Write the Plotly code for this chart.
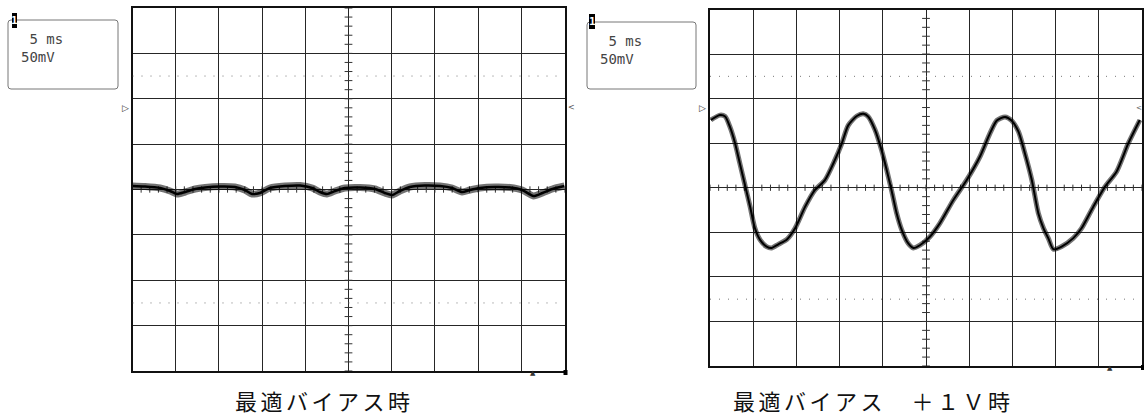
import plotly.graph_objects as go

W, H = 1144, 416

# ---- data (x in time divisions 0..10, y in volt divisions, centre = 0) ----
left_x = [0.00, 0.29, 0.64, 0.87, 1.03, 1.22, 1.45, 1.68, 2.03, 2.37, 2.60, 2.77, 2.95,
          3.18, 3.53, 3.88, 4.16, 4.34, 4.50, 4.69, 4.92, 5.27, 5.61, 5.84, 6.01, 6.19,
          6.42, 6.77, 7.12, 7.40, 7.63, 7.81, 8.04, 8.39, 8.74, 9.02, 9.28, 9.49, 9.72, 10.0]
left_y = [0.077, 0.066, 0.033, -0.033, -0.099, -0.055, 0.011, 0.044, 0.066, 0.055, -0.011,
          -0.099, -0.077, 0.033, 0.077, 0.088, 0.033, -0.055, -0.099, -0.033, 0.033, 0.044,
          0.011, -0.077, -0.121, -0.033, 0.055, 0.088, 0.077, 0.033, -0.055, -0.011, 0.033,
          0.055, 0.044, -0.011, -0.143, -0.077, 0.011, 0.077]

right_x = [0.02, 0.23, 0.35, 0.46, 0.58, 0.69, 0.81, 0.93, 1.04, 1.16, 1.31, 1.43, 1.58,
           1.78, 1.97, 2.20, 2.43, 2.66, 2.89, 3.05, 3.20, 3.40, 3.55, 3.66, 3.82, 3.97,
           4.09, 4.21, 4.32, 4.44, 4.59, 4.71, 4.86, 5.09, 5.32, 5.63, 5.94, 6.25, 6.48,
           6.64, 6.83, 6.98, 7.14, 7.29, 7.45, 7.60, 7.72, 7.83, 7.95, 8.14, 8.41, 8.60,
           8.87, 9.14, 9.41, 9.68, 9.95]
right_y = [1.52, 1.63, 1.60, 1.37, 1.00, 0.55, 0.06, -0.43, -0.91, -1.17, -1.32, -1.35,
           -1.27, -1.16, -0.91, -0.43, -0.05, 0.17, 0.62, 0.99, 1.40, 1.61, 1.66, 1.60,
           1.30, 0.85, 0.40, -0.09, -0.57, -0.95, -1.25, -1.35, -1.29, -1.10, -0.80,
           -0.28, 0.17, 0.70, 1.22, 1.51, 1.59, 1.51, 1.26, 0.77, 0.17, -0.57, -0.91,
           -1.13, -1.38, -1.32, -1.13, -0.91, -0.43, 0.02, 0.36, 0.99, 1.52]

time_label = " 5 ms"
volt_label = "50mV"
channel_label = "1"
captions = ["最適バイアス時", "最適バイアス　＋１Ｖ時"]

# ---- helpers ----
def px(x):
    return x / W

def py(y):
    return 1 - y / H

screens = [
    dict(x0=132.5, x1=564.5, y0=8, y1=371, box=(8, 20, 118, 89), badge=(12, 13, 17, 28),
         cap_x=324, trace=(left_x, left_y), band=7, core=2.5),
    dict(x0=710, x1=1142, y0=9.5, y1=366, box=(587, 22, 696, 89), badge=(589, 14, 595, 29),
         cap_x=873, trace=(right_x, right_y), band=5, core=2),
]

fig = go.Figure()
shapes = []
annotations = []
layout_axes = {}

for i, s in enumerate(screens):
    n = "" if i == 0 else str(i + 1)
    xa, ya = "x" + n, "y" + n
    layout_axes["xaxis" + n] = dict(
        domain=[px(s["x0"]), px(s["x1"])], range=[0, 10], dtick=1, tick0=0,
        showgrid=True, gridcolor="#262626", gridwidth=1, zeroline=False,
        showticklabels=False, ticks="", showline=True, mirror=True,
        linecolor="#111", linewidth=1.5, anchor=ya, fixedrange=True)
    layout_axes["yaxis" + n] = dict(
        domain=[py(s["y1"]), py(s["y0"])], range=[-4, 4], dtick=1, tick0=0,
        showgrid=True, gridcolor="#262626", gridwidth=1, zeroline=False,
        showticklabels=False, ticks="", showline=True, mirror=True,
        linecolor="#111", linewidth=1.5, anchor=xa, fixedrange=True)

    # centre-line minor ticks
    tx, ty = [], []
    for k in range(51):
        v = k * 0.2
        tx += [v, v, None]
        ty += [-0.07, 0.07, None]
    for k in range(41):
        v = -4 + k * 0.2
        tx += [4.91, 5.09, None]
        ty += [v, v, None]
    fig.add_trace(go.Scatter(x=tx, y=ty, mode="lines", xaxis=xa, yaxis=ya,
                             line=dict(color="#333", width=1), hoverinfo="skip",
                             showlegend=False))

    # dotted reference lines
    for yv in (2.5, -2.5):
        shapes.append(dict(type="line", xref=xa, yref=ya, x0=0, x1=10, y0=yv, y1=yv,
                           line=dict(color="#777", width=1, dash="1px,8px")))

    # waveform (noise band + core)
    tx_, ty_ = s["trace"]
    fig.add_trace(go.Scatter(x=tx_, y=ty_, mode="lines", xaxis=xa, yaxis=ya,
                             line=dict(color="rgba(0,0,0,0.55)", width=s["band"],
                                       shape="spline", smoothing=0.7),
                             hoverinfo="skip", showlegend=False))
    fig.add_trace(go.Scatter(x=tx_, y=ty_, mode="lines", xaxis=xa, yaxis=ya,
                             line=dict(color="#000", width=s["core"], shape="spline",
                                       smoothing=0.7),
                             hoverinfo="skip", showlegend=False))

    # info box
    bx0, by0, bx1, by1 = s["box"]
    r = 3
    path = (f"M {px(bx0 + r)} {py(by0)} L {px(bx1 - r)} {py(by0)} "
            f"Q {px(bx1)} {py(by0)} {px(bx1)} {py(by0 + r)} L {px(bx1)} {py(by1 - r)} "
            f"Q {px(bx1)} {py(by1)} {px(bx1 - r)} {py(by1)} L {px(bx0 + r)} {py(by1)} "
            f"Q {px(bx0)} {py(by1)} {px(bx0)} {py(by1 - r)} L {px(bx0)} {py(by0 + r)} "
            f"Q {px(bx0)} {py(by0)} {px(bx0 + r)} {py(by0)} Z")
    shapes.append(dict(type="path", xref="paper", yref="paper", path=path,
                       line=dict(color="#777", width=1), fillcolor="white"))
    gx0, gy0, gx1, gy1 = s["badge"]
    shapes.append(dict(type="rect", xref="paper", yref="paper", x0=px(gx0), x1=px(gx1),
                       y0=py(gy1), y1=py(gy0), line=dict(width=0), fillcolor="#000"))
    annotations.append(dict(xref="paper", yref="paper", x=px((gx0 + gx1) / 2),
                            y=py((gy0 + gy1) / 2), text=f"<b>{channel_label}</b>",
                            showarrow=False, font=dict(family="DejaVu Sans Mono", size=11,
                                                       color="white"),
                            xanchor="center", yanchor="middle"))
    annotations.append(dict(xref="paper", yref="paper", x=px(bx0 + 11), y=py(by0 + 19),
                            text=time_label, showarrow=False, xanchor="left",
                            yanchor="middle",
                            font=dict(family="DejaVu Sans Mono", size=14, color="#444")))
    annotations.append(dict(xref="paper", yref="paper", x=px(bx0 + 11), y=py(by0 + 37),
                            text=volt_label, showarrow=False, xanchor="left",
                            yanchor="middle",
                            font=dict(family="DejaVu Sans Mono", size=14, color="#444")))

    # ground / level markers
    annotations.append(dict(xref="paper", yref="paper", x=px(s["x0"] - 2), y=py(108),
                            text="▷", showarrow=False, xanchor="right", yanchor="middle",
                            font=dict(family="DejaVu Sans", size=9, color="#333")))
    if s["x1"] + 8 < W:
        annotations.append(dict(xref="paper", yref="paper", x=px(s["x1"] + 1), y=py(108),
                                text="<", showarrow=False, xanchor="left",
                                yanchor="middle",
                                font=dict(family="DejaVu Sans", size=8, color="#555")))
    else:
        annotations.append(dict(xref="paper", yref="paper", x=1.0, y=py(108),
                                text="<", showarrow=False, xanchor="right",
                                yanchor="middle",
                                font=dict(family="DejaVu Sans", size=7, color="#555")))
    # bottom markers
    annotations.append(dict(xref="paper", yref="paper", x=px(s["x1"] - 32), y=py(s["y1"] + 2),
                            text="▲", showarrow=False, xanchor="center", yanchor="middle",
                            font=dict(family="DejaVu Sans", size=7, color="#333")))
    shapes.append(dict(type="rect", xref="paper", yref="paper", x0=px(s["x1"] - 1),
                       x1=px(min(s["x1"] + 3, W)), y0=py(s["y1"] + 4), y1=py(s["y1"] - 1),
                       line=dict(width=0), fillcolor="#000"))

    # caption
    annotations.append(dict(xref="paper", yref="paper", x=px(s["cap_x"]), y=py(400),
                            text=f'<span style="letter-spacing:3.5px">{captions[i]}</span>',
                            showarrow=False, xanchor="center", yanchor="middle",
                            borderpad=0,
                            font=dict(family="Noto Sans CJK JP", size=22, color="#111")))

fig.update_layout(width=W, height=H, margin=dict(l=0, r=0, t=0, b=0),
                  paper_bgcolor="white", plot_bgcolor="white", showlegend=False,
                  shapes=shapes, annotations=annotations, **layout_axes)

fig.write_html("out.html", config={"displayModeBar": False},
               post_script="document.body.style.margin='0';"
                           "document.body.style.overflow='hidden';")
